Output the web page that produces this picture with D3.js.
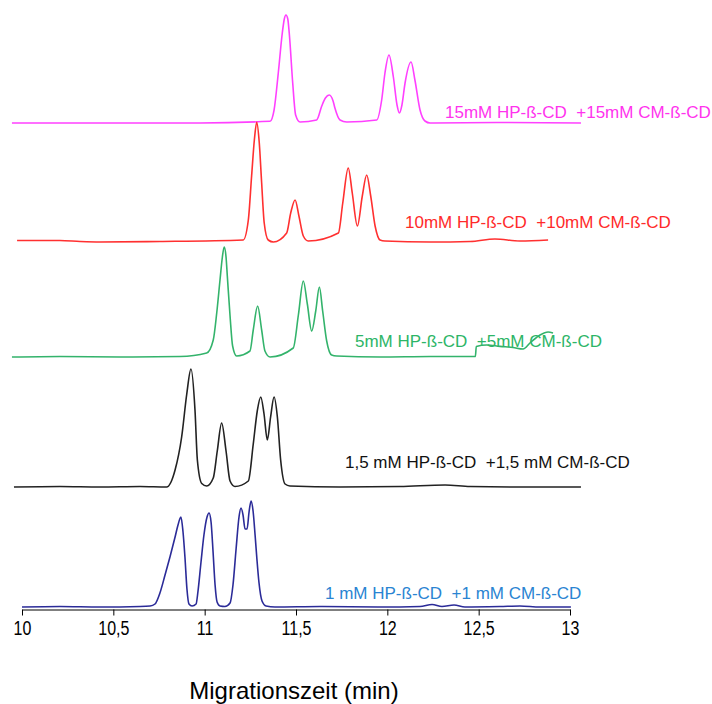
<!DOCTYPE html>
<html>
<head>
<meta charset="utf-8">
<script src="https://cdn.jsdelivr.net/npm/d3@7"></script>
<style>
  html, body { margin: 0; padding: 0; background: #fff; }
  svg { display: block; }
  text { font-family: "Liberation Sans", Arial, sans-serif; }
</style>
</head>
<body>
<div id="chart"></div>
<script>
// ---- data (time in min, signal in arbitrary units above each trace's baseline) ----
const xTicks = [10, 10.5, 11, 11.5, 12, 12.5, 13];
const seriesNames = [
  "1 mM HP-ß-CD  +1 mM CM-ß-CD",
  "1,5 mM HP-ß-CD  +1,5 mM CM-ß-CD",
  "5mM HP-ß-CD  +5mM CM-ß-CD",
  "10mM HP-ß-CD  +10mM CM-ß-CD",
  "15mM HP-ß-CD  +15mM CM-ß-CD"
];
const seriesOffsets = [2, 122, 252, 367, 486];

const trace1mM = [
  [10.000,0],[10.208,0.5],[10.427,0],[10.646,0.5],[10.701,1],[10.728,3],[10.755,14],[10.783,32],
  [10.810,50],[10.838,70],[10.854,82],[10.870,90],[10.881,76],[10.892,50],[10.903,18],[10.914,3],
  [10.931,1],[10.953,3],[10.963,15],[10.980,45],[10.996,72],[11.013,90],[11.024,94],[11.035,85],
  [11.046,55],[11.057,22],[11.068,5],[11.084,1],[11.111,0.5],[11.139,4],[11.155,22],[11.172,58],
  [11.188,90],[11.199,99],[11.210,92],[11.221,78],[11.232,78],[11.243,95],[11.254,106],[11.265,96],
  [11.276,72],[11.286,48],[11.297,25],[11.314,6],[11.336,1],[11.385,0],[11.631,0.5],[11.960,0],
  [12.179,0.5],[12.245,2.5],[12.299,0.5],[12.365,2],[12.425,0],[12.617,0.5],[12.726,1],[12.836,0],[13.005,0]
];
const trace1_5mM = [
  [9.956,0],[10.208,0.5],[10.427,0],[10.646,0.5],[10.792,0],[10.838,17],[10.874,50],[10.902,93],
  [10.925,118],[10.947,77],[10.960,27],[10.984,3.5],[11.011,1],[11.047,9],[11.069,36],[11.093,64],
  [11.117,36],[11.139,6],[11.166,0.5],[11.239,6],[11.266,43],[11.288,76],[11.307,90],[11.325,73],
  [11.343,47],[11.361,70],[11.380,90],[11.398,70],[11.416,27],[11.440,3],[11.467,1],[11.741,0],
  [12.069,0.5],[12.316,2],[12.453,0.5],[12.726,0],[13.060,0]
];
const trace5mM = [
  [9.945,0],[10.208,0.5],[10.537,0],[10.865,0.5],[11.011,4],[11.047,17],[11.066,44],[11.084,77],
  [11.097,100],[11.107,110],[11.117,100],[11.124,81],[11.139,41],[11.153,11],[11.175,1],[11.248,6],
  [11.266,27],[11.290,51],[11.312,27],[11.330,6],[11.358,0],[11.485,9],[11.513,42],[11.540,76],
  [11.562,53],[11.586,26],[11.608,46],[11.628,70],[11.646,46],[11.668,16],[11.695,2],[11.723,1],
  [11.960,0],[12.234,0.5],[12.482,0.5],[12.487,10.6],[12.544,12],[12.617,10.6],[12.688,9.5],[12.743,8],
  [12.781,14],[12.836,22],[12.880,25],[12.907,24]
];
const trace10mM = [
  [9.973,1.5],[10.208,1.5],[10.318,0.5],[10.427,0],[10.755,0.5],[11.211,2],[11.239,22],[11.257,66],
  [11.272,102],[11.285,119.6],[11.299,99],[11.312,59],[11.326,19],[11.348,2],[11.376,0],[11.449,9],
  [11.471,29],[11.495,42],[11.516,26],[11.540,6],[11.567,1],[11.732,9],[11.756,39],[11.786,74],
  [11.808,49],[11.836,16],[11.863,46],[11.887,67],[11.909,46],[11.933,16],[11.960,2],[11.987,1],
  [12.234,0],[12.453,0.5],[12.589,3],[12.726,1],[12.880,2]
];
const trace15mM = [
  [9.945,0],[10.427,0],[10.974,0],[11.358,1.7],[11.380,13],[11.403,50],[11.425,90],[11.436,104],
  [11.445,108],[11.455,104],[11.463,90],[11.482,40],[11.498,8],[11.522,1],[11.613,3],[11.641,17],
  [11.661,25],[11.682,28],[11.703,22],[11.713,15],[11.741,3],[11.778,1],[11.942,3],[11.969,23],
  [11.987,50],[12.009,68],[12.033,46],[12.053,18],[12.066,10],[12.080,18],[12.097,40],[12.130,61],
  [12.151,43],[12.179,13],[12.206,2],[12.234,0],[12.617,0.5],[13.060,0]
];
const seriesData = [trace1mM, trace1_5mM, trace5mM, trace10mM, trace15mM];

// ---- styles / layout ----
const lineColors = ["#2b2b98", "#222222", "#33b36b", "#ff3030", "#ff40ff"];
const labelColors = ["#2a84d2", "#111111", "#2db567", "#ff2a2a", "#ff33ee"];
const labelPos = [[325, 598.5], [345, 467.5], [355, 346.5], [405, 227.5], [445, 117.5]];

const W = 712, H = 704;
const svg = d3.select("#chart").append("svg").attr("width", W).attr("height", H);

const x = d3.scaleLinear().domain([10, 13]).range([22, 570]);
const y = d3.scaleLinear().domain([0, 600]).range([609, 9]);

const line = d3.line().curve(d3.curveMonotoneX);

// draw top trace first so lower traces sit on top
for (let i = seriesData.length - 1; i >= 0; i--) {
  const off = seriesOffsets[i];
  line.x(d => x(d[0])).y(d => y(d[1] + off));
  svg.append("path")
    .datum(seriesData[i])
    .attr("d", line)
    .attr("fill", "none")
    .attr("stroke", lineColors[i])
    .attr("stroke-width", 1.6)
    .attr("stroke-linejoin", "round");
}

// labels
seriesNames.forEach((name, i) => {
  svg.append("text")
    .attr("x", labelPos[i][0])
    .attr("y", labelPos[i][1])
    .attr("fill", labelColors[i])
    .attr("font-size", 17)
    .style("white-space", "pre")
    .text(name);
});

// axis
const gx = svg.append("g")
  .attr("transform", "translate(0,609.5)")
  .call(d3.axisBottom(x).tickValues(xTicks).tickSize(6).tickSizeOuter(0)
    .tickFormat(d => String(d).replace(".", ",")));
gx.select(".domain").attr("stroke", "#000").attr("stroke-width", 1);
gx.selectAll(".tick line").attr("stroke", "#000").attr("stroke-width", 1);
gx.selectAll(".tick text")
  .attr("y", null).attr("dy", null)
  .attr("transform", "translate(0,25.5) scale(1,1.22)")
  .attr("font-size", 16)
  .attr("font-family", "'Liberation Sans', Arial, sans-serif")
  .attr("fill", "#000");

svg.append("text")
  .attr("x", 294)
  .attr("y", 699)
  .attr("text-anchor", "middle")
  .attr("font-size", 24)
  .attr("fill", "#000")
  .text("Migrationszeit (min)");
</script>
</body>
</html>
